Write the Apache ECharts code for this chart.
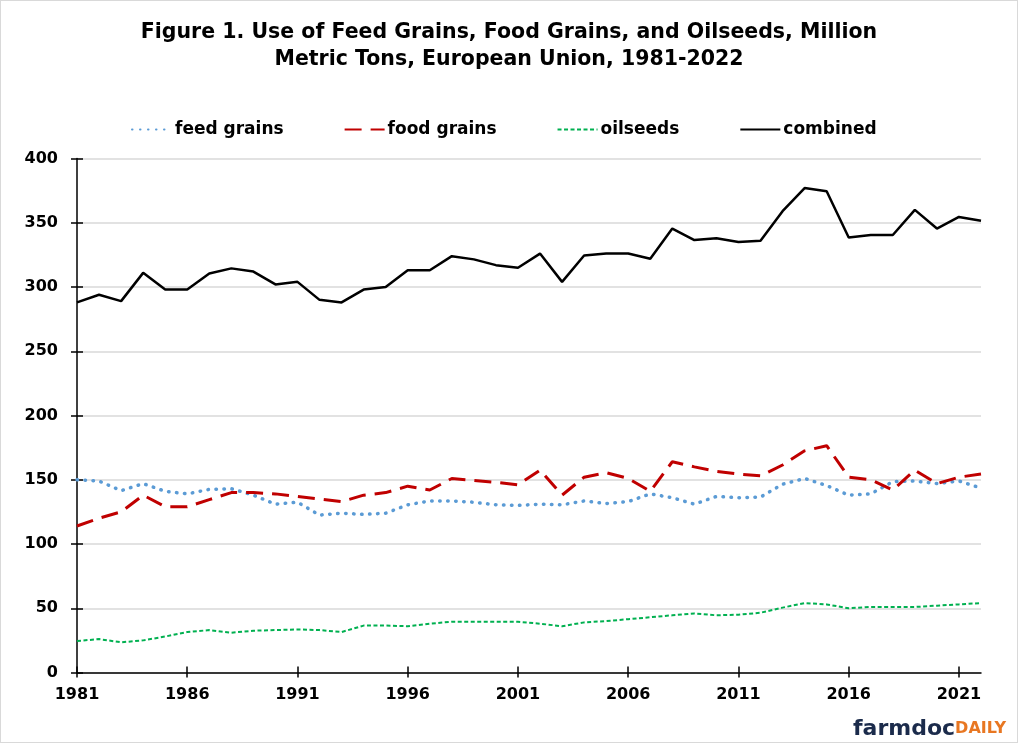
<!DOCTYPE html>
<html>
<head>
<meta charset="utf-8">
<script src="https://cdn.jsdelivr.net/npm/echarts@6/dist/echarts.min.js"></script>
<style>
html,body{margin:0;padding:0;background:#fff;}
#chart{width:1018px;height:743px;box-sizing:border-box;border:1px solid #d9d9d9;}
</style>
</head>
<body>
<div id="chart"></div>
<script>
const years = [];
for (let y = 1981; y <= 2022; y++) years.push(String(y));

const feedGrains = [150,149,141.5,147,141,139,142.5,143,138,131,132.5,122.5,124,123,124,130.5,133.5,133.5,132.5,130.5,130,131,130.5,133.5,131.5,133,139,136,131,137,136,136.5,146.5,151,145.5,138,139,148.5,149,147,149,143.5];
const foodGrains = [114,120,125,138,129,129,134.5,140,140,139,137,135,133,138,140,145,142,151,149.5,148,146,157.5,138,152,155.5,151,141,164,160,156.5,154.5,153,161.5,172.5,176.5,152,150,142,157.5,147,152,154.5];
const oilseeds = [24.5,26,23.5,25,28,31.5,33,31,32.5,33,33.5,33,31.5,36.5,36.5,36,38,39.5,39.5,39.5,39.5,38,36,39,40,41.5,43,44.5,46,44.5,45,46.5,50.5,54,53,50,51,51,51,52,53,54];
const combined = [288,294,289,311,298,298,310.5,314.5,312,302,304,290,288,298,300,313,313,324,321.5,317,315,326,304,324.5,326,326,322,345.5,336.5,338,335,336,359,377,374.5,338.5,340.5,340.5,360,345.5,354.5,351.5];

const seriesNames = ['feed grains','food grains','oilseeds','combined'];
const titleText = 'Figure 1. Use of Feed Grains, Food Grains, and Oilseeds, Million\nMetric Tons, European Union, 1981-2022';

const chart = echarts.init(document.getElementById('chart'));
const font = '"DejaVu Sans", "Liberation Sans", Arial, sans-serif';
chart.setOption({
  animation: false,
  title: {
    text: titleText,
    left: 'center',
    top: 13,
    textStyle: {fontFamily: font, fontWeight: 'bold', fontSize: 20.5, color: '#000', lineHeight: 27}
  },
  legend: {
    left: 125,
    top: 115,
    itemWidth: 40,
    itemHeight: 14,
    itemGap: 60,
    itemStyle: {opacity: 0},
    textStyle: {fontFamily: font, fontSize: 17, fontWeight: 'bold', color: '#000', padding: [0,0,0,-2]},
    data: seriesNames
  },
  grid: {left: 76, right: 36, top: 157.5, bottom: 69.5, containLabel: false},
  xAxis: [{
    type: 'category',
    data: years,
    boundaryGap: false,
    position: 'bottom',
    axisLine: {lineStyle: {color: '#000', width: 1.5}},
    axisTick: {inside: true, length: 6, interval: 4, lineStyle: {color: '#000', width: 1.5}},
    axisLabel: {interval: 4, fontFamily: font, fontSize: 16, fontWeight: 'bold', color: '#000', margin: 14},
    splitLine: {show: false}
  }, {
    type: 'category',
    data: years,
    boundaryGap: false,
    position: 'bottom',
    offset: 0,
    axisLine: {show: false},
    axisTick: {inside: false, length: 5, interval: 4, lineStyle: {color: '#000', width: 1.5}},
    axisLabel: {show: false},
    splitLine: {show: false}
  }],
  yAxis: [{
    type: 'value',
    min: 0, max: 400, interval: 50,
    position: 'left',
    axisLine: {show: true, lineStyle: {color: '#000', width: 1.5}},
    axisTick: {show: true, length: 6, lineStyle: {color: '#000', width: 1.5}},
    axisLabel: {fontFamily: font, fontSize: 16, fontWeight: 'bold', color: '#000', margin: 19},
    splitLine: {lineStyle: {color: '#d9d9d9', width: 1.5}}
  }, {
    type: 'value',
    min: 0, max: 400, interval: 50,
    position: 'left',
    offset: 0,
    axisLine: {show: false},
    axisTick: {show: true, inside: true, length: 6, lineStyle: {color: '#000', width: 1.5}},
    axisLabel: {show: false},
    splitLine: {show: false}
  }],
  series: [
    {name: seriesNames[0], type: 'line', data: feedGrains, symbol: 'none', z: 3,
     lineStyle: {color: '#5b9bd5', width: 3.5, type: [0.5, 7.5], cap: 'round'}, itemStyle: {color: '#5b9bd5'}},
    {name: seriesNames[1], type: 'line', data: foodGrains, symbol: 'none', z: 4,
     lineStyle: {color: '#c00000', width: 3, type: [17, 9]}, itemStyle: {color: '#c00000'}},
    {name: seriesNames[2], type: 'line', data: oilseeds, symbol: 'none',
     lineStyle: {color: '#00b050', width: 2, type: [4, 2.5]}, itemStyle: {color: '#00b050'}},
    {name: seriesNames[3], type: 'line', data: combined, symbol: 'none',
     lineStyle: {color: '#000', width: 2.5}, itemStyle: {color: '#000'}}
  ],
  graphic: [{
    type: 'text',
    right: 11,
    bottom: 2,
    style: {
      text: '{a|farmdoc}{b|DAILY}',
      rich: {
        a: {fontFamily: font, fontSize: 22, fontWeight: 'bold', fill: '#1b2b4b'},
        b: {fontFamily: font, fontSize: 16, fontWeight: 'bold', fill: '#e87722'}
      }
    }
  }]
});
</script>
</body>
</html>
